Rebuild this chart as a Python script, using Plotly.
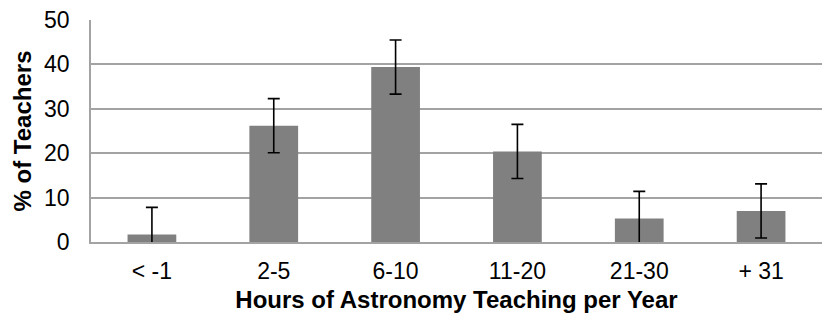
import plotly.graph_objects as go

categories = ["< -1", "2-5", "6-10", "11-20", "21-30", "+ 31"]
percent_teachers = [1.7, 26.2, 39.4, 20.4, 5.3, 7.0]
error_values = [6.1, 6.1, 6.1, 6.1, 6.1, 6.1]
y_ticks = [0, 10, 20, 30, 40, 50]

grid_col = "#a3a3a3"
font_fam = "Liberation Sans, Arial, sans-serif"
tick_fs = 23
title_fs = 24

fig = go.Figure()
fig.add_trace(go.Bar(
    x=categories,
    y=percent_teachers,
    marker=dict(color="#808080", line=dict(width=0)),
    error_y=dict(type="data", array=error_values, visible=True,
                 color="#000000", thickness=1.6, width=6),
))

fig.update_layout(
    width=828, height=318,
    margin=dict(l=91, r=6, t=20, b=76),
    paper_bgcolor="white", plot_bgcolor="white",
    bargap=0.6,
    showlegend=False,
    font=dict(family=font_fam, color="#000000", size=tick_fs),
)
fig.update_xaxes(
    automargin=False,
    showgrid=False,
    showline=True, linecolor=grid_col, linewidth=1.5,
    ticks="", ticklabelstandoff=8,
    tickfont=dict(size=tick_fs, family=font_fam, color="#000"),
    title=dict(text="<b>Hours of Astronomy Teaching per Year</b>",
               font=dict(size=title_fs, family=font_fam, color="#000"), standoff=8),
)
fig.update_yaxes(
    automargin=False,
    range=[0, 50], tickvals=y_ticks,
    showgrid=True, gridcolor=grid_col, gridwidth=1.5,
    showline=True, linecolor=grid_col, linewidth=1.5,
    zeroline=False,
    ticks="", ticklabelstandoff=15,
    tickfont=dict(size=tick_fs, family=font_fam, color="#000"),
    title=dict(text="<b>% of Teachers</b>",
               font=dict(size=title_fs, family=font_fam, color="#000"), standoff=6),
)

fig.write_html("out.html", config={"displayModeBar": False},
               post_script="document.body.style.margin='0';")
